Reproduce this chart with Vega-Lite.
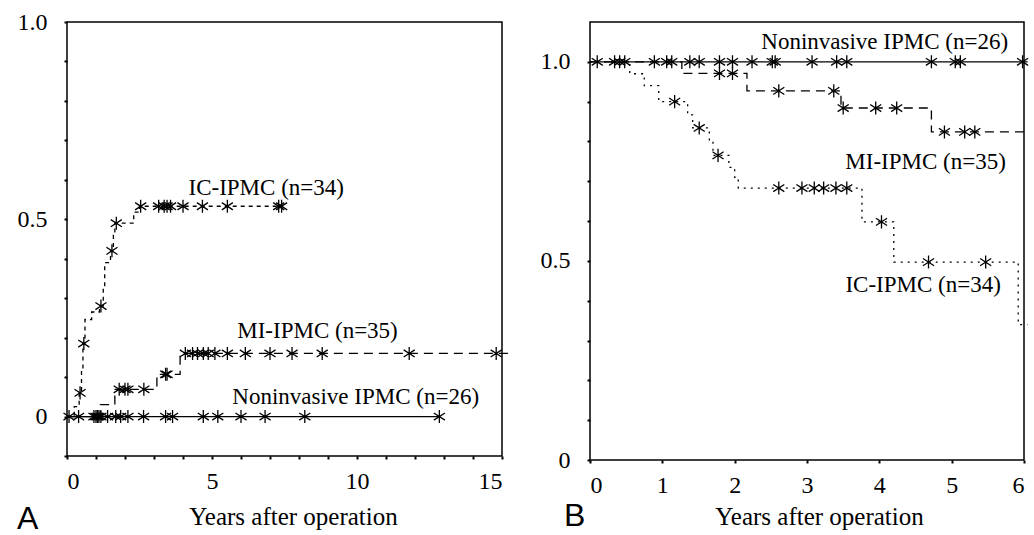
{
  "$schema": "https://vega.github.io/schema/vega-lite/v6.json",
  "padding": {"left": 16, "top": 9, "right": 0, "bottom": 0},
  "background": "white",
  "config": {
    "view": {"stroke": "black", "strokeWidth": 1.5},
    "font": "Liberation Serif",
    "axis": {"domain": false, "grid": false, "tickColor": "black", "tickSize": 3, "tickWidth": 2, "labelFont": "Liberation Serif", "labelFontSize": 24, "labelColor": "black", "titleFont": "Liberation Serif", "titleFontSize": 25, "titleFontWeight": "normal", "titleColor": "black", "labelOverlap": false},
    "title": {"font": "Liberation Sans", "fontSize": 32, "fontWeight": "normal", "color": "black", "orient": "bottom", "anchor": "start", "frame": "bounds"}
  },
  "datasets": {
    "linesA": [
      {"g": "IC", "t": 0, "s": 0}, {"g": "IC", "t": 0.25, "s": 0.025}, {"g": "IC", "t": 0.42, "s": 0.06}, {"g": "IC", "t": 0.5, "s": 0.12}, {"g": "IC", "t": 0.55, "s": 0.185}, {"g": "IC", "t": 0.62, "s": 0.246}, {"g": "IC", "t": 0.85, "s": 0.265}, {"g": "IC", "t": 1.12, "s": 0.28}, {"g": "IC", "t": 1.25, "s": 0.33}, {"g": "IC", "t": 1.3, "s": 0.39}, {"g": "IC", "t": 1.5, "s": 0.42}, {"g": "IC", "t": 1.6, "s": 0.46}, {"g": "IC", "t": 1.65, "s": 0.49}, {"g": "IC", "t": 2.3, "s": 0.518}, {"g": "IC", "t": 2.5, "s": 0.533}, {"g": "IC", "t": 7.4, "s": 0.533},
      {"g": "MI", "t": 0, "s": 0}, {"g": "MI", "t": 1.15, "s": 0.03}, {"g": "MI", "t": 1.65, "s": 0.069}, {"g": "MI", "t": 3.1, "s": 0.107}, {"g": "MI", "t": 3.9, "s": 0.16}, {"g": "MI", "t": 15.3, "s": 0.16},
      {"g": "NI", "t": 0, "s": 0}, {"g": "NI", "t": 12.85, "s": 0}
    ],
    "marksA": [
      {"g": "IC", "t": 0.45, "s": 0.06}, {"g": "IC", "t": 0.58, "s": 0.185}, {"g": "IC", "t": 1.17, "s": 0.28}, {"g": "IC", "t": 1.55, "s": 0.42}, {"g": "IC", "t": 1.7, "s": 0.49}, {"g": "IC", "t": 2.54, "s": 0.533}, {"g": "IC", "t": 3.16, "s": 0.533}, {"g": "IC", "t": 3.35, "s": 0.533}, {"g": "IC", "t": 3.45, "s": 0.533}, {"g": "IC", "t": 3.57, "s": 0.533}, {"g": "IC", "t": 4.0, "s": 0.533}, {"g": "IC", "t": 4.67, "s": 0.533}, {"g": "IC", "t": 5.53, "s": 0.533}, {"g": "IC", "t": 7.3, "s": 0.533}, {"g": "IC", "t": 7.4, "s": 0.533},
      {"g": "MI", "t": 1.8, "s": 0.069}, {"g": "MI", "t": 2.0, "s": 0.069}, {"g": "MI", "t": 2.1, "s": 0.069}, {"g": "MI", "t": 2.65, "s": 0.069}, {"g": "MI", "t": 3.4, "s": 0.107}, {"g": "MI", "t": 3.45, "s": 0.107}, {"g": "MI", "t": 4.08, "s": 0.16}, {"g": "MI", "t": 4.33, "s": 0.16}, {"g": "MI", "t": 4.5, "s": 0.16}, {"g": "MI", "t": 4.7, "s": 0.16}, {"g": "MI", "t": 4.87, "s": 0.16}, {"g": "MI", "t": 5.1, "s": 0.16}, {"g": "MI", "t": 5.53, "s": 0.16}, {"g": "MI", "t": 6.15, "s": 0.16}, {"g": "MI", "t": 7.0, "s": 0.16}, {"g": "MI", "t": 7.76, "s": 0.16}, {"g": "MI", "t": 8.8, "s": 0.16}, {"g": "MI", "t": 11.8, "s": 0.16}, {"g": "MI", "t": 14.8, "s": 0.16},
      {"g": "NI", "t": 0.07, "s": 0}, {"g": "NI", "t": 0.4, "s": 0}, {"g": "NI", "t": 0.93, "s": 0}, {"g": "NI", "t": 1.0, "s": 0}, {"g": "NI", "t": 1.05, "s": 0}, {"g": "NI", "t": 1.1, "s": 0}, {"g": "NI", "t": 1.17, "s": 0}, {"g": "NI", "t": 1.4, "s": 0}, {"g": "NI", "t": 1.68, "s": 0}, {"g": "NI", "t": 1.85, "s": 0}, {"g": "NI", "t": 2.1, "s": 0}, {"g": "NI", "t": 2.64, "s": 0}, {"g": "NI", "t": 3.4, "s": 0}, {"g": "NI", "t": 3.64, "s": 0}, {"g": "NI", "t": 4.7, "s": 0}, {"g": "NI", "t": 5.2, "s": 0}, {"g": "NI", "t": 6.0, "s": 0}, {"g": "NI", "t": 6.83, "s": 0}, {"g": "NI", "t": 8.2, "s": 0}, {"g": "NI", "t": 12.84, "s": 0}
    ],
    "labelsA": [
      {"t": 4.19, "s": 0.58, "label": "IC-IPMC (n=34)"},
      {"t": 5.87, "s": 0.216, "label": "MI-IPMC (n=35)"},
      {"t": 5.7, "s": 0.05, "label": "Noninvasive IPMC (n=26)"}
    ],
    "linesB": [
      {"g": "NI", "t": 0, "s": 1}, {"g": "NI", "t": 6.05, "s": 1},
      {"g": "MI", "t": 0, "s": 1}, {"g": "MI", "t": 1.27, "s": 0.971}, {"g": "MI", "t": 2.17, "s": 0.927}, {"g": "MI", "t": 3.47, "s": 0.884}, {"g": "MI", "t": 4.72, "s": 0.824}, {"g": "MI", "t": 6.05, "s": 0.824},
      {"g": "IC", "t": 0, "s": 1}, {"g": "IC", "t": 0.55, "s": 0.97}, {"g": "IC", "t": 0.75, "s": 0.94}, {"g": "IC", "t": 0.95, "s": 0.9}, {"g": "IC", "t": 1.35, "s": 0.867}, {"g": "IC", "t": 1.42, "s": 0.834}, {"g": "IC", "t": 1.65, "s": 0.8}, {"g": "IC", "t": 1.7, "s": 0.765}, {"g": "IC", "t": 1.92, "s": 0.735}, {"g": "IC", "t": 2.0, "s": 0.71}, {"g": "IC", "t": 2.05, "s": 0.683}, {"g": "IC", "t": 3.76, "s": 0.598}, {"g": "IC", "t": 4.2, "s": 0.497}, {"g": "IC", "t": 5.92, "s": 0.34}, {"g": "IC", "t": 6.05, "s": 0.34}
    ],
    "marksB": [
      {"g": "NI", "t": 0.1, "s": 1}, {"g": "NI", "t": 0.34, "s": 1}, {"g": "NI", "t": 0.41, "s": 1}, {"g": "NI", "t": 0.48, "s": 1}, {"g": "NI", "t": 0.89, "s": 1}, {"g": "NI", "t": 1.06, "s": 1}, {"g": "NI", "t": 1.13, "s": 1}, {"g": "NI", "t": 1.38, "s": 1}, {"g": "NI", "t": 1.51, "s": 1}, {"g": "NI", "t": 1.79, "s": 1}, {"g": "NI", "t": 1.97, "s": 1}, {"g": "NI", "t": 2.24, "s": 1}, {"g": "NI", "t": 2.52, "s": 1}, {"g": "NI", "t": 2.56, "s": 1}, {"g": "NI", "t": 3.07, "s": 1}, {"g": "NI", "t": 3.41, "s": 1}, {"g": "NI", "t": 3.55, "s": 1}, {"g": "NI", "t": 4.72, "s": 1}, {"g": "NI", "t": 5.05, "s": 1}, {"g": "NI", "t": 5.12, "s": 1}, {"g": "NI", "t": 5.98, "s": 1},
      {"g": "MI", "t": 1.79, "s": 0.971}, {"g": "MI", "t": 1.97, "s": 0.971}, {"g": "MI", "t": 2.61, "s": 0.927}, {"g": "MI", "t": 3.37, "s": 0.927}, {"g": "MI", "t": 3.5, "s": 0.884}, {"g": "MI", "t": 3.95, "s": 0.884}, {"g": "MI", "t": 4.24, "s": 0.884}, {"g": "MI", "t": 4.9, "s": 0.824}, {"g": "MI", "t": 5.18, "s": 0.824}, {"g": "MI", "t": 5.32, "s": 0.824},
      {"g": "IC", "t": 1.17, "s": 0.9}, {"g": "IC", "t": 1.51, "s": 0.834}, {"g": "IC", "t": 1.77, "s": 0.765}, {"g": "IC", "t": 2.61, "s": 0.683}, {"g": "IC", "t": 2.93, "s": 0.683}, {"g": "IC", "t": 3.1, "s": 0.683}, {"g": "IC", "t": 3.23, "s": 0.683}, {"g": "IC", "t": 3.4, "s": 0.683}, {"g": "IC", "t": 3.55, "s": 0.683}, {"g": "IC", "t": 4.03, "s": 0.598}, {"g": "IC", "t": 4.68, "s": 0.497}, {"g": "IC", "t": 5.47, "s": 0.497}
    ],
    "labelsB": [
      {"t": 5.78, "s": 1.05, "label": "Noninvasive IPMC (n=26)"},
      {"t": 5.75, "s": 0.749, "label": "MI-IPMC (n=35)"},
      {"t": 5.68, "s": 0.44, "label": "IC-IPMC (n=34)"}
    ]
  },
  "spacing": 24,
  "hconcat": [
    {
      "width": 435,
      "height": 434,
      "title": {"text": "A", "dy": -29},
      "encoding": {
        "x": {"field": "t", "type": "quantitative", "scale": {"domain": [0, 15], "nice": false, "zero": false},
          "axis": {"values": [0,1,2,3,4,5,6,7,8,9,10,11,12,13,14,15], "labelExpr": "datum.value % 5 === 0 ? datum.label : ''", "title": "Years after operation", "titleX": 226, "labelPadding": 10, "titlePadding": 11}},
        "y": {"field": "s", "type": "quantitative", "scale": {"domain": [-0.1, 1.0], "nice": false, "zero": false},
          "axis": {"values": [-0.1,0,0.1,0.2,0.3,0.4,0.5,0.6,0.7,0.8,0.9,1], "labelExpr": "datum.value === 0 ? '0' : datum.value === 0.5 ? '0.5' : datum.value === 1 ? '1.0' : ''", "title": null, "labelPadding": 17}}
      },
      "layer": [
        {"data": {"name": "linesA"}, "transform": [{"filter": "datum.g === 'NI'"}], "mark": {"type": "line", "interpolate": "step-after", "color": "black", "strokeWidth": 1.3}},
        {"data": {"name": "linesA"}, "transform": [{"filter": "datum.g === 'MI'"}], "mark": {"type": "line", "interpolate": "step-after", "color": "black", "strokeWidth": 1.3, "strokeDash": [9, 6]}},
        {"data": {"name": "linesA"}, "transform": [{"filter": "datum.g === 'IC'"}], "mark": {"type": "line", "interpolate": "step-after", "color": "black", "strokeWidth": 1.3, "strokeDash": [4, 4]}},
        {"data": {"name": "marksA"}, "mark": {"type": "point", "shape": "M-0.85,-0.55L0.85,0.55M-0.85,0.55L0.85,-0.55M0,-1L0,1", "size": 170, "stroke": "black", "strokeWidth": 1.3, "filled": false, "opacity": 1}},
        {"data": {"name": "labelsA"}, "mark": {"type": "text", "font": "Liberation Serif", "fontSize": 23, "align": "left", "baseline": "middle", "color": "black"}, "encoding": {"text": {"field": "label"}}}
      ]
    },
    {
      "width": 434,
      "height": 438,
      "title": {"text": "B", "dy": -32, "dx": 24},
      "encoding": {
        "x": {"field": "t", "type": "quantitative", "scale": {"domain": [0, 6], "nice": false, "zero": false},
          "axis": {"values": [0,1,2,3,4,5,6], "title": "Years after operation", "titleX": 229, "labelPadding": 10, "titlePadding": 7}},
        "y": {"field": "s", "type": "quantitative", "scale": {"domain": [0, 1.1], "nice": false, "zero": false},
          "axis": {"values": [0,0.1,0.2,0.3,0.4,0.5,0.6,0.7,0.8,0.9,1], "labelExpr": "datum.value === 0 ? '0' : datum.value === 0.5 ? '0.5' : datum.value === 1 ? '1.0' : ''", "title": null, "labelPadding": 17}}
      },
      "layer": [
        {"data": {"name": "linesB"}, "transform": [{"filter": "datum.g === 'NI'"}], "mark": {"type": "line", "interpolate": "step-after", "color": "black", "strokeWidth": 1.3}},
        {"data": {"name": "linesB"}, "transform": [{"filter": "datum.g === 'MI'"}], "mark": {"type": "line", "interpolate": "step-after", "color": "black", "strokeWidth": 1.3, "strokeDash": [9, 6]}},
        {"data": {"name": "linesB"}, "transform": [{"filter": "datum.g === 'IC'"}], "mark": {"type": "line", "interpolate": "step-after", "color": "black", "strokeWidth": 1.3, "strokeDash": [2, 5]}},
        {"data": {"name": "marksB"}, "mark": {"type": "point", "shape": "M-0.85,-0.55L0.85,0.55M-0.85,0.55L0.85,-0.55M0,-1L0,1", "size": 170, "stroke": "black", "strokeWidth": 1.3, "filled": false, "opacity": 1}},
        {"data": {"name": "labelsB"}, "mark": {"type": "text", "font": "Liberation Serif", "fontSize": 23, "align": "right", "baseline": "middle", "color": "black"}, "encoding": {"text": {"field": "label"}}}
      ]
    }
  ]
}
